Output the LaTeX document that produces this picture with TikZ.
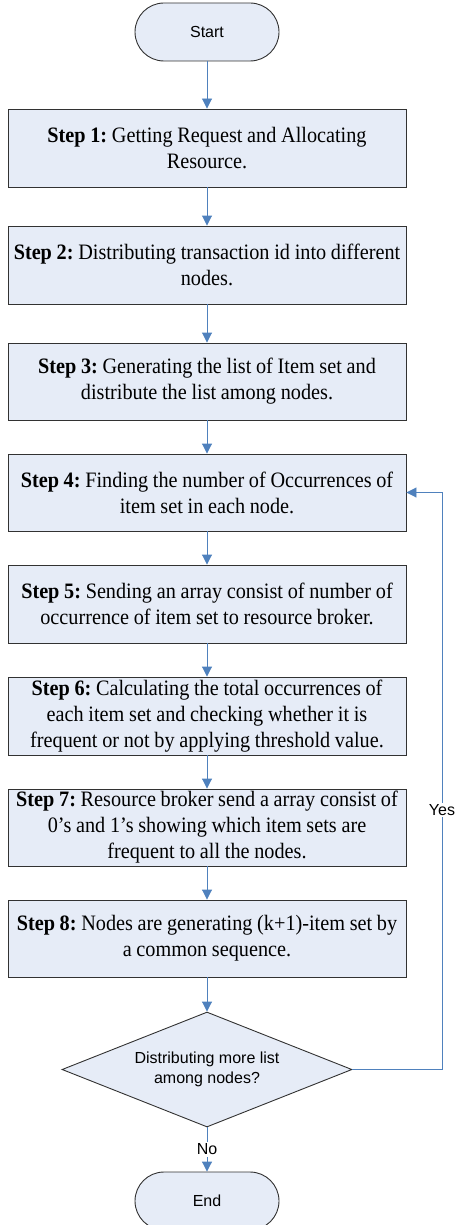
\documentclass[tikz,border=0pt]{standalone}
\usepackage{fontspec}
\setmainfont{Liberation Serif}[FakeStretch=0.92]
\newfontfamily\arialf{Liberation Sans}
\usetikzlibrary{arrows.meta,shapes.geometric}
\definecolor{boxfill}{RGB}{230,236,247}
\definecolor{linkblue}{RGB}{79,129,189}
\definecolor{edge}{RGB}{50,50,50}
\newcommand{\stepfont}{\frenchspacing\fontsize{22}{26}\selectfont\spaceskip=4.7pt plus 1pt minus 1pt\relax}
\tikzset{
  stepbox/.style={draw=edge, line width=0.9pt, fill=boxfill, minimum width=398pt, align=center, inner sep=0pt, font=\stepfont},
  term/.style={draw=edge, line width=0.9pt, fill=boxfill, rounded corners=29pt, minimum width=144pt, minimum height=58pt, inner sep=0pt, font=\arialf\fontsize{16}{19}\selectfont},
  decision/.style={draw=edge, line width=0.9pt, fill=boxfill, diamond, aspect=2.52, minimum width=290pt, minimum height=115pt, inner sep=0pt, align=center, font=\arialf\fontsize{16}{20}\selectfont},
  link/.style={draw=linkblue, line width=0.9pt, -{Triangle[width=10pt,length=10pt]}},
  lbl/.style={fill=white, inner sep=1.5pt, font=\arialf\fontsize{16}{19}\selectfont},
}
\begin{document}
\begin{tikzpicture}[x=1pt,y=-1pt]
\useasboundingbox (0,0) rectangle (456,1225);
\node[term] (start) at (207,32) {Start};
\node[stepbox, minimum height=78pt] (s1) at (207,148) {\textbf{Step 1:} Getting Request and Allocating\\Resource.};
\node[stepbox, minimum height=78pt] (s2) at (207,265) {\textbf{Step 2:} Distributing transaction id into different\\nodes.};
\node[stepbox, minimum height=77pt] (s3) at (207,381.5) {\textbf{Step 3:} Generating the list of Item set and\\distribute the list among nodes.};
\node[stepbox, minimum height=77pt] (s4) at (207,492.5) {\textbf{Step 4:} Finding the number of Occurrences of\\item set in each node.};
\node[stepbox, minimum height=78pt] (s5) at (207,604) {\textbf{Step 5:} Sending an array consist of number of\\occurrence of item set to resource broker.};
\node[stepbox, minimum height=78pt] (s6) at (207,716) {\textbf{Step 6:} Calculating the total occurrences of\\each item set and checking whether it is\\frequent or not by applying threshold value.};
\node[stepbox, minimum height=77pt] (s7) at (207,827.5) {\textbf{Step 7:} Resource broker send a array consist of\\0’s and 1’s showing which item sets are\\frequent to all the nodes.};
\node[stepbox, minimum height=77pt] (s8) at (207,938.5) {\textbf{Step 8:} Nodes are generating (k+1)-item set by\\a common sequence.};
\node[decision] (dec) at (207,1069.5) {Distributing more list\\among nodes?};
\node[term] (end) at (207,1201) {End};
\coordinate (c1) at (442,1069.5);
\coordinate (c2) at (442,492.5);
\draw[link] (start) -- (s1);
\draw[link] (s1) -- (s2);
\draw[link] (s2) -- (s3);
\draw[link] (s3) -- (s4);
\draw[link] (s4) -- (s5);
\draw[link] (s5) -- (s6);
\draw[link] (s6) -- (s7);
\draw[link] (s7) -- (s8);
\draw[link] (s8) -- (dec);
\draw[link] (dec) -- node[lbl, pos=0.5] (no) {No} (end);
\draw[link] (dec.east) -- (c1) -- node[lbl, pos=0.45] (yes) {Yes} (c2) -- (s4.east);
\end{tikzpicture}
\end{document}
